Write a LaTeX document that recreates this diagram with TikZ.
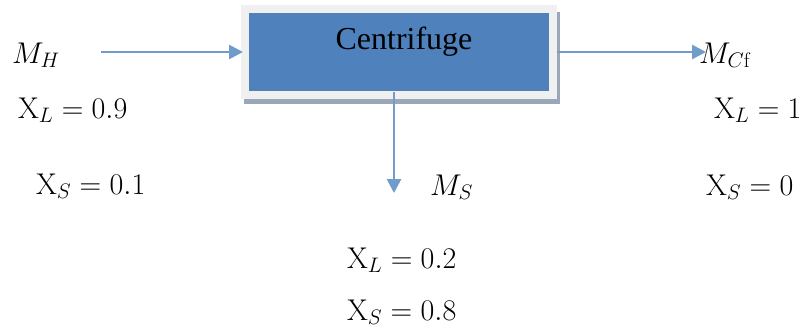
\RequirePackage{fix-cm}
\documentclass[tikz,border=0pt]{standalone}
\usepackage{fontspec}
\newfontfamily\timesfont{Liberation Serif}
\usetikzlibrary{arrows.meta}
\definecolor{boxblue}{HTML}{4F81BD}
\definecolor{arrowblue}{HTML}{709CCB}
\definecolor{framegray}{HTML}{F0F0F0}
\definecolor{shadowgray}{HTML}{9AA7B8}
\tikzset{
  lbl/.style={inner sep=0pt, anchor=base west, font=\fontsize{30}{32}\selectfont},
  flow/.style={draw=arrowblue, line width=2.8pt, -{Triangle[length=14pt,width=14pt]}}
}
\begin{document}
\begin{tikzpicture}[x=1pt,y=-1pt]
\useasboundingbox (0,0) rectangle (806,330);
% shadow
\fill[shadowgray] (244,12) rectangle (560,104);
% frame
\fill[framegray] (241,5) rectangle (557,99);
% box
\node (cf) [fill=boxblue, minimum width=300pt, minimum height=78pt, inner sep=0pt, anchor=north west] at (249,13) {};
\node (cft) [inner sep=0pt, font=\timesfont\fontsize{32}{34}\selectfont] at (404,42) {Centrifuge};
% coordinates
\coordinate (inS) at (101,52);
\coordinate (inE) at (243,52);
\coordinate (outS) at (557,52);
\coordinate (outE) at (706,52);
\coordinate (dnS) at (394,92);
\coordinate (dnE) at (394,193);
\draw[flow] (inS) -- (inE);
\draw[flow] (outS) -- (outE);
\draw[flow] (dnS) -- (dnE);
% labels
\node (mh) [lbl] at (12,63) {$M_H$};
\node (xl1) [lbl] at (18,118) {$\mathrm{X}_L = 0.9$};
\node (xs1) [lbl] at (36,194) {$\mathrm{X}_S = 0.1$};
\node (mcf) [lbl] at (699,63) {$M_{C\mathrm{f}}$};
\node (xl2) [lbl] at (714,118) {$\mathrm{X}_L = 1$};
\node (xs2) [lbl] at (706,195) {$\mathrm{X}_S = 0$};
\node (ms) [lbl] at (430,195) {$M_S$};
\node (xl3) [lbl] at (347,268) {$\mathrm{X}_L = 0.2$};
\node (xs3) [lbl] at (347,320) {$\mathrm{X}_S = 0.8$};
\end{tikzpicture}
\end{document}
